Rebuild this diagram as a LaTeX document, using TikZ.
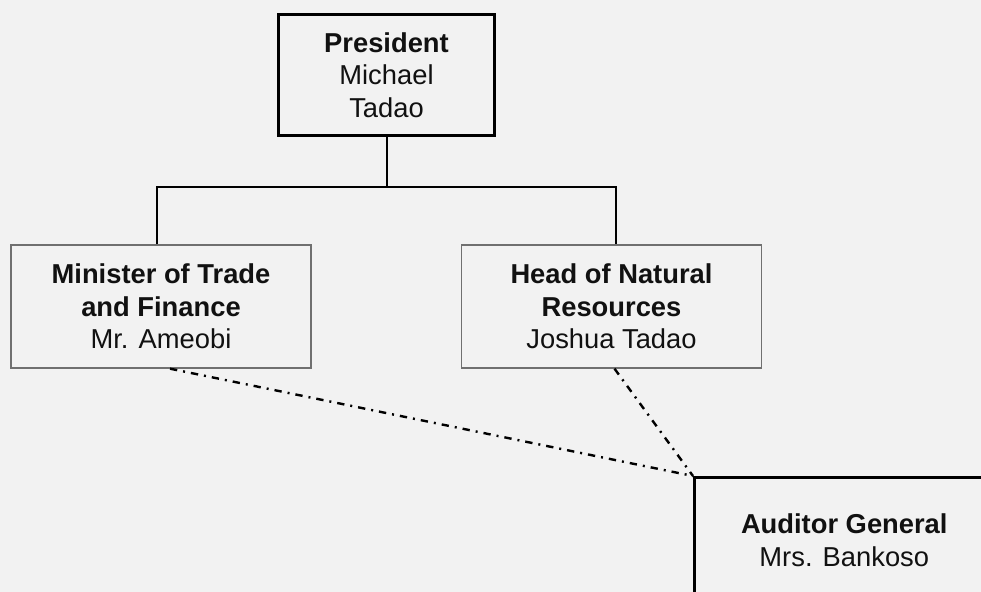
\documentclass[tikz,border=0pt]{standalone}
\usepackage{fontspec}
\setmainfont{Liberation Sans}
\usetikzlibrary{calc}
\definecolor{paper}{HTML}{F2F2F2}
\definecolor{ink}{HTML}{111111}
\definecolor{frame}{HTML}{707070}
\begin{document}
\begin{tikzpicture}[x=0.75pt,y=-0.75pt,
  every node/.style={font=\fontsize{20.5}{24.4}\selectfont, text=ink, align=center, inner sep=0pt},
  chief/.style={draw=black, line width=1.9pt, fill=paper, minimum width=162pt, minimum height=90.75pt},
  office/.style={draw=frame, line width=1pt, fill=paper, minimum width=225pt, minimum height=92.25pt},
  audit/.style={draw=black, line width=1.9pt, fill=paper, minimum width=225pt, minimum height=94.5pt},
  link/.style={draw=black, line width=1.5pt},
  oversight/.style={draw=black, line width=1.8pt, dash pattern=on 5.5pt off 4.5pt on 1.5pt off 4.5pt}
]
\fill[paper] (0,0) rectangle (981,592);
\useasboundingbox (0,0) rectangle (981,592);
\clip (0,0) rectangle (981,592);

\node[chief]  (pres) at (386.5,75)  {\textbf{President}\\Michael\\Tadao};
\node[office] (min)  at (161,306.5) {\textbf{Minister of Trade}\\\textbf{and Finance}\\Mr. Ameobi};
\node[office] (head) at (611.5,306.5) {\textbf{Head of Natural}\\\textbf{Resources}\\Joshua Tadao};
\node[audit,anchor=north west] (aud) at (693,476) {\textbf{Auditor General}\\Mrs. Bankoso};

% reporting lines
\coordinate (busL) at ($(min.north)+(-4,-57)$);
\coordinate (busR) at ($(head.north)+(4,-57)$);
\draw[link] (pres.south) -- (pres.south |- busL);
\draw[link] ($(min.north)+(-4,0)$) -- (busL) -- (busR) -- ($(head.north)+(4,0)$);

% audit oversight
\draw[oversight] ($(min.south)+(9,0)$) -- (aud.north west);
\draw[oversight] ($(head.south)+(3,0)$) -- (aud.north west);
\end{tikzpicture}
\end{document}
